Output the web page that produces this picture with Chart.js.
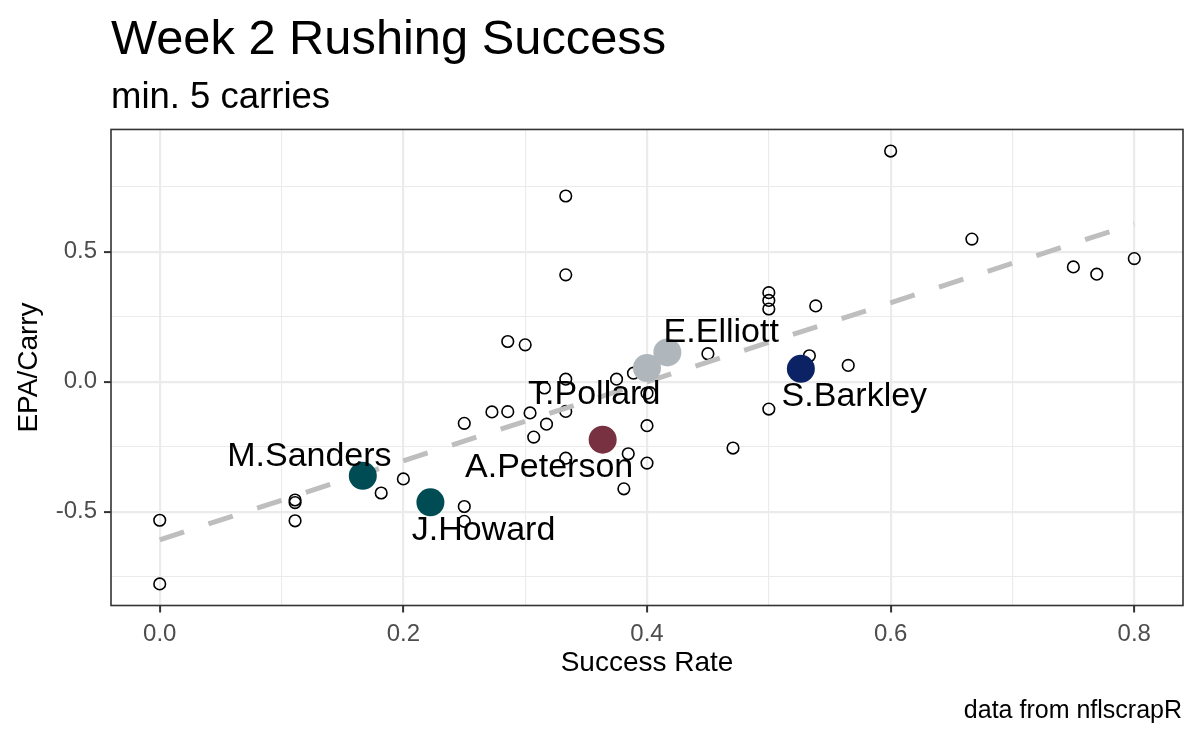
<!DOCTYPE html>
<html>
<head>
<meta charset="utf-8">
<script src="https://cdn.jsdelivr.net/npm/chart.js@4.4.0/dist/chart.umd.min.js"></script>
<style>
html,body{margin:0;padding:0;background:#ffffff;}
#wrap{width:1200px;height:740px;}
</style>
</head>
<body>
<div id="wrap"><canvas id="c" width="1200" height="740"></canvas></div>
<script>
// ---- data ----
const successRate = [0, 0, 0.1111, 0.1111, 0.1111, 0.1818, 0.2, 0.25, 0.25, 0.25,
  0.2727, 0.2857, 0.3333, 0.3333, 0.2857, 0.3, 0.3333, 0.3158, 0.375, 0.3889,
  0.4, 0.45, 0.304, 0.3333, 0.3175, 0.307, 0.4, 0.3333, 0.3846, 0.4,
  0.381, 0.4706, 0.5, 0.5, 0.5, 0.5385, 0.5333, 0.5652, 0.5, 0.6,
  0.6667, 0.75, 0.7692, 0.8];
const epaPerCarry = [-0.533, -0.778, -0.455, -0.465, -0.535, -0.428, -0.374, -0.48, -0.537, -0.16,
  -0.116, -0.115, 0.715, 0.4115, 0.155, 0.142, 0.010, -0.024, 0.010, 0.033,
  -0.044, 0.108, -0.12, -0.114, -0.163, -0.213, -0.169, -0.294, -0.277, -0.313,
  -0.412, -0.255, 0.343, 0.313, 0.280, 0.292, 0.10, 0.063, -0.105, 0.888,
  0.549, 0.442, 0.414, 0.474];

const featuredPlayers = ['M.Sanders', 'J.Howard', 'A.Peterson', 'T.Pollard', 'E.Elliott', 'S.Barkley'];
const featuredSuccess = [0.1667, 0.2222, 0.3636, 0.4, 0.4167, 0.5263];
const featuredEpa = [-0.362, -0.464, -0.223, 0.053, 0.113, 0.05];
const featuredColors = ['#004C54', '#004C54', '#773141', '#B0B7BC', '#B0B7BC', '#0B2265'];

const fitSuccess = [0, 0.8];
const fitEpa = [-0.608, 0.608];

const xMajorTicks = [0, 0.2, 0.4, 0.6, 0.8];
const xMinorTicks = [0.1, 0.3, 0.5, 0.7];
const xTickLabels = ['0.0', '0.2', '0.4', '0.6', '0.8'];
const yMajorTicks = [-0.5, 0, 0.5];
const yMinorTicks = [-0.75, -0.25, 0.25, 0.75];
const yTickLabels = ['-0.5', '0.0', '0.5'];

// ---- layout / style (kept separate from data) ----
const FONT = '"Liberation Sans", Arial, Helvetica, sans-serif';
const labelDx = [-53.4, 53.1, -53.5, -52.8, 53.9, 53.5];
const labelDy = [-10, 37.5, 37.1, 35.8, -10.6, 37];

const isMajor = (list, v) => list.some(t => Math.abs(t - v) < 1e-9);

const labelPlugin = {
  id: 'playerLabels',
  afterDatasetsDraw(chart) {
    const ctx = chart.ctx;
    const xs = chart.scales.x, ys = chart.scales.y;
    ctx.save();
    ctx.font = '34px ' + FONT;
    ctx.fillStyle = '#000000';
    ctx.textAlign = 'center';
    ctx.textBaseline = 'alphabetic';
    featuredPlayers.forEach((name, i) => {
      const px = xs.getPixelForValue(featuredSuccess[i]) + labelDx[i];
      const py = ys.getPixelForValue(featuredEpa[i]) + labelDy[i];
      ctx.fillText(name, px, py);
    });
    ctx.restore();
  },
  afterDraw(chart) {
    const ctx = chart.ctx;
    const a = chart.chartArea;
    ctx.save();
    ctx.strokeStyle = '#333333';
    ctx.lineWidth = 1.6;
    ctx.strokeRect(a.left, a.top, a.right - a.left, a.bottom - a.top);
    ctx.font = '25px ' + FONT;
    ctx.fillStyle = '#000000';
    ctx.textAlign = 'right';
    ctx.textBaseline = 'alphabetic';
    ctx.fillText('data from nflscrapR', 1182, 718);
    ctx.restore();
  }
};

const smallPoints = successRate.map((x, i) => ({x: x, y: epaPerCarry[i]}));
const bigPoints = featuredSuccess.map((x, i) => ({x: x, y: featuredEpa[i]}));
const fitPoints = fitSuccess.map((x, i) => ({x: x, y: fitEpa[i]}));

new Chart(document.getElementById('c'), {
  type: 'scatter',
  data: {
    datasets: [
      {
        label: 'featured',
        data: bigPoints,
        order: 1,
        pointRadius: 14,
        pointBorderWidth: 0,
        pointBackgroundColor: featuredColors,
        pointBorderColor: featuredColors
      },
      {
        type: 'line',
        label: 'fit',
        data: fitPoints,
        order: 2,
        borderColor: '#BEBEBE',
        borderWidth: 5,
        borderDash: [25.6, 25.6],
        borderCapStyle: 'butt',
        pointRadius: 0,
        fill: false,
        tension: 0
      },
      {
        label: 'all',
        data: smallPoints,
        order: 3,
        pointRadius: 5.8,
        pointBorderWidth: 1.6,
        pointBorderColor: '#000000',
        pointBackgroundColor: 'rgba(0,0,0,0)'
      }
    ]
  },
  options: {
    responsive: false,
    animation: false,
    devicePixelRatio: 1,
    events: [],
    layout: { padding: { left: 0, right: 17, top: 0, bottom: 44.5 } },
    plugins: {
      legend: { display: false },
      tooltip: { enabled: false },
      title: {
        display: true,
        text: 'Week 2 Rushing Success',
        align: 'start',
        fullSize: false,
        color: '#000000',
        font: { family: FONT, size: 48.8, weight: 'normal', lineHeight: 1.2 },
        padding: { top: 11, bottom: 0 }
      },
      subtitle: {
        display: true,
        text: 'min. 5 carries',
        align: 'start',
        fullSize: false,
        color: '#000000',
        font: { family: FONT, size: 36.5, weight: 'normal', lineHeight: 1.2 },
        padding: { top: 6.5, bottom: 9.6 }
      }
    },
    scales: {
      x: {
        type: 'linear',
        min: -0.04,
        max: 0.84,
        afterBuildTicks(scale) {
          scale.ticks = xMajorTicks.concat(xMinorTicks).sort((a, b) => a - b).map(v => ({value: v}));
        },
        afterFit(scale) { scale.height = 90; },
        ticks: {
          autoSkip: false,
          maxRotation: 0,
          minRotation: 0,
          padding: 7,
          color: '#4D4D4D',
          font: { family: FONT, size: 24 },
          callback(value) {
            const i = xMajorTicks.findIndex(t => Math.abs(t - value) < 1e-9);
            return i >= 0 ? xTickLabels[i] : '';
          }
        },
        grid: {
          color: '#EBEBEB',
          lineWidth: (c) => (c.tick && isMajor(xMajorTicks, c.tick.value)) ? 2.2 : 1.1,
          drawTicks: true,
          tickLength: 7,
          tickWidth: 2,
          tickColor: (c) => (c.tick && isMajor(xMajorTicks, c.tick.value)) ? '#333333' : 'rgba(0,0,0,0)'
        },
        border: { display: false },
        title: {
          display: true,
          text: 'Success Rate',
          color: '#000000',
          font: { family: FONT, size: 28, lineHeight: 1.2 },
          padding: { top: 0, bottom: 15.1 }
        }
      },
      y: {
        type: 'linear',
        min: -0.861,
        max: 0.971,
        afterBuildTicks(scale) {
          scale.ticks = yMajorTicks.concat(yMinorTicks).sort((a, b) => a - b).map(v => ({value: v}));
        },
        afterFit(scale) { scale.width = 111; },
        ticks: {
          autoSkip: false,
          padding: 7,
          color: '#4D4D4D',
          font: { family: FONT, size: 24 },
          callback(value) {
            const i = yMajorTicks.findIndex(t => Math.abs(t - value) < 1e-9);
            return i >= 0 ? yTickLabels[i] : '';
          }
        },
        grid: {
          color: '#EBEBEB',
          lineWidth: (c) => (c.tick && isMajor(yMajorTicks, c.tick.value)) ? 2.2 : 1.1,
          drawTicks: true,
          tickLength: 7,
          tickWidth: 2,
          tickColor: (c) => (c.tick && isMajor(yMajorTicks, c.tick.value)) ? '#333333' : 'rgba(0,0,0,0)'
        },
        border: { display: false },
        title: {
          display: true,
          text: 'EPA/Carry',
          color: '#000000',
          font: { family: FONT, size: 28, lineHeight: 1.2 },
          padding: { top: 12.2, bottom: 0 }
        }
      }
    }
  },
  plugins: [labelPlugin]
});
</script>
</body>
</html>
